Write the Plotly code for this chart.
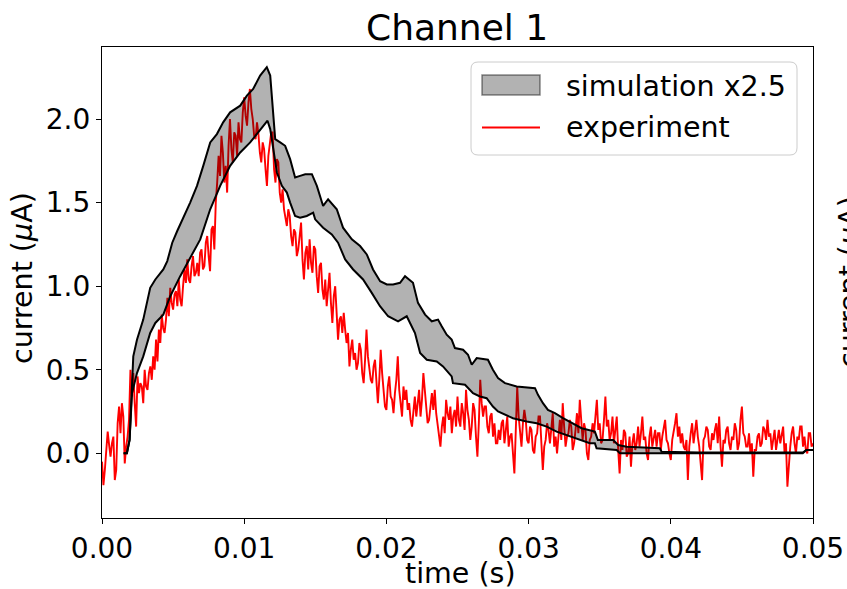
import plotly.graph_objects as go

# experiment trace, sampled every 0.1 ms (values in uA)
exp_step_ms = 0.1
exp_current = [
    -0.05, -0.19, -0.10, 0.02, 0.13, 0.05, -0.02, 0.06, 0.10, -0.16,
    -0.10, 0.18, 0.28, 0.12, 0.30, 0.22, -0.06, 0.04, 0.10, 0.20,
    0.50, 0.34, 0.48, 0.30, 0.16, 0.46, 0.36, 0.42, 0.40, 0.30,
    0.50, 0.40, 0.38, 0.48, 0.52, 0.44, 0.58, 0.50, 0.68, 0.55,
    0.74, 0.66, 0.83, 0.75, 0.72, 0.80, 0.93, 0.82, 0.99, 0.90,
    0.86, 0.95, 0.97, 0.88, 1.04, 0.92, 0.88, 1.00, 1.10, 1.02,
    1.16, 1.04, 1.02, 1.12, 1.18, 1.06, 1.08, 1.14, 1.06, 1.20,
    1.22, 1.10, 1.12, 1.26, 1.30, 1.18, 1.09, 1.34, 1.36, 1.22,
    1.50, 1.62, 1.78, 1.66, 1.90, 1.80, 1.62, 1.72, 1.56, 1.84,
    2.00, 1.82, 1.74, 1.92, 1.90, 1.78, 1.98, 1.88, 1.86, 2.04,
    2.13, 2.02, 1.96, 2.10, 2.18, 2.06, 2.00, 1.90, 1.88, 1.98,
    1.91, 1.80, 1.74, 1.86, 1.82, 1.70, 1.60, 1.78, 1.86, 1.92,
    1.92, 1.70, 1.62, 1.76, 1.74, 1.56, 1.50, 1.58, 1.46, 1.40,
    1.36, 1.46, 1.42, 1.30, 1.24, 1.34, 1.32, 1.18, 1.22, 1.30,
    1.38, 1.16, 1.04, 1.20, 1.24, 1.10, 1.28, 1.14, 1.08, 1.24,
    1.22, 1.06, 0.96, 1.12, 1.14, 0.98, 0.92, 1.04, 0.88, 0.98,
    1.08, 0.90, 0.78, 0.94, 1.00, 0.84, 0.68, 0.80, 0.82, 0.72,
    0.84, 0.74, 0.66, 0.72, 0.52, 0.62, 0.68, 0.56, 0.60, 0.50,
    0.54, 0.66, 0.62, 0.48, 0.42, 0.56, 0.74, 0.58, 0.50, 0.44,
    0.42, 0.52, 0.56, 0.40, 0.30, 0.44, 0.62, 0.48, 0.36, 0.28,
    0.26, 0.40, 0.46, 0.34, 0.32, 0.24, 0.36, 0.44, 0.58, 0.38,
    0.30, 0.22, 0.40, 0.32, 0.38, 0.26, 0.30, 0.20, 0.16, 0.28,
    0.34, 0.22, 0.30, 0.38, 0.22, 0.32, 0.48, 0.36, 0.30, 0.18,
    0.20, 0.30, 0.36, 0.26, 0.38, 0.24, 0.18, 0.10, 0.04, 0.16,
    0.22, 0.12, 0.32, 0.24, 0.20, 0.28, 0.12, 0.22, 0.26, 0.16,
    0.34, 0.20, 0.16, 0.30, 0.24, 0.14, 0.38, 0.26, 0.20, 0.08,
    0.16, 0.30, 0.26, 0.10, -0.02, 0.18, 0.44, 0.30, 0.22, 0.28,
    0.28, 0.16, 0.12, 0.22, 0.24, 0.10, 0.18, 0.06, 0.06, 0.14,
    0.08, 0.18, 0.20, 0.06, 0.14, 0.22, 0.04, 0.10, 0.12, -0.04,
    -0.12, 0.14, 0.40, 0.22, 0.12, 0.04, 0.18, 0.26, 0.20, 0.08,
    0.06, 0.16, 0.14, 0.02, 0.00, 0.10, 0.12, 0.22, 0.22, 0.02,
    -0.10, 0.04, 0.08, 0.18, 0.14, 0.06, 0.16, 0.24, 0.04, 0.10,
    0.00, 0.12, 0.20, 0.08, 0.30, 0.16, 0.04, 0.10, 0.12, 0.20,
    0.16, 0.02, 0.06, 0.14, 0.24, 0.12, 0.32, 0.20, 0.08, 0.18,
    0.14, 0.00, -0.04, 0.08, 0.10, 0.18, 0.12, 0.22, 0.32, 0.14,
    0.18, 0.06, 0.08, 0.20, 0.34, 0.16, 0.20, 0.08, 0.12, 0.22,
    0.06, 0.14, 0.22, 0.02, -0.12, 0.08, 0.02, 0.14, 0.12, -0.02,
    0.00, 0.10, -0.08, 0.06, 0.12, 0.02, 0.06, 0.16, 0.04, 0.12,
    0.22, 0.08, 0.10, 0.00, -0.04, 0.10, 0.16, 0.04, 0.08, 0.14,
    0.04, 0.12, 0.12, 0.02, 0.10, 0.16, 0.20, 0.08, 0.06, 0.00,
    -0.04, 0.08, 0.12, 0.18, 0.24, 0.10, 0.16, 0.06, 0.12, 0.04,
    0.02, 0.08, -0.16, 0.04, 0.12, 0.18, 0.06, 0.12, 0.20, 0.10,
    0.04, -0.06, -0.16, 0.08, 0.10, 0.16, 0.14, 0.04, 0.02, 0.12,
    0.08, 0.14, 0.18, 0.06, 0.22, 0.04, -0.08, 0.08, 0.06, 0.14,
    0.16, 0.06, 0.02, 0.10, 0.08, 0.18, 0.14, 0.02, 0.06, 0.20,
    0.28, 0.12, 0.10, 0.04, 0.04, 0.12, 0.00, 0.06, -0.14, 0.02,
    0.02, 0.10, 0.12, 0.04, 0.06, 0.16, 0.14, 0.08, 0.20, 0.10,
    0.12, 0.02, 0.08, 0.14, 0.02, 0.10, 0.14, 0.06, 0.10, 0.16,
    0.00, 0.06, -0.20, -0.06, 0.04, 0.12, 0.16, 0.06, 0.00, 0.10,
    0.08, 0.16, 0.16, 0.04, 0.10, 0.02, 0.00, 0.12, 0.12, 0.04,
    0.06,
]

# simulation envelope (x2.5), time in ms
sim_hi_t = [1.52, 1.75, 1.94, 2.20, 2.46, 2.90, 3.39, 3.75, 4.31, 4.59, 4.94, 5.29,
            6.20, 6.68, 7.12, 7.61, 8.08, 8.52, 9.01, 9.72, 10.19, 10.63, 11.12,
            11.59, 11.83, 12.18, 12.53, 12.88, 13.23, 13.58, 13.93, 14.29, 14.76,
            15.11, 15.55, 15.90, 16.51, 16.95, 17.57, 18.15, 18.62, 19.06, 19.56,
            20.03, 20.47, 20.96, 21.31, 21.87, 22.22, 22.72, 23.19, 23.63, 23.89,
            24.24, 24.59, 24.82, 25.39, 25.74, 26.00, 26.35, 27.14, 27.49, 27.85,
            28.34, 29.16, 30.45, 30.66, 31.01, 31.36, 31.85, 32.42, 33.12, 33.73,
            34.66, 34.87, 35.95, 36.30, 36.89, 39.23, 39.35, 42.03, 49.28, 49.54,
            50.0]
sim_hi = [0.0, 0.0, 0.08, 0.58, 0.68, 0.80, 0.99, 1.04, 1.10, 1.15, 1.26, 1.33,
          1.50, 1.60, 1.72, 1.86, 1.91, 1.98, 2.04, 2.08, 2.14, 2.18, 2.26,
          2.31, 2.26, 1.88, 1.86, 1.84, 1.76, 1.65, 1.66, 1.67, 1.67,
          1.60, 1.48, 1.52, 1.46, 1.35, 1.28, 1.24, 1.19, 1.10, 1.03,
          1.01, 1.01, 1.02, 1.06, 1.02, 0.90, 0.83, 0.79, 0.80, 0.76,
          0.71, 0.68, 0.63, 0.62, 0.59, 0.53, 0.57, 0.56, 0.50, 0.45,
          0.42, 0.40, 0.39, 0.35, 0.30, 0.26, 0.24, 0.21, 0.18, 0.15,
          0.13, 0.08, 0.08, 0.05, 0.04, 0.03, 0.01, 0.005, 0.005, 0.02,
          0.02]

sim_lo_t = [1.52, 1.75, 1.94, 2.11, 2.46, 2.90, 3.39, 3.75, 4.31, 4.80, 5.50, 6.20,
            6.91, 7.61, 8.31, 9.01, 9.72, 10.42, 10.89, 11.33, 11.64, 11.83, 12.04,
            12.30, 12.65, 13.00, 13.23, 13.58, 13.93, 14.40, 14.85, 14.99, 15.55,
            16.16, 16.60, 17.10, 17.66, 18.36, 18.97, 19.55, 20.12, 20.82, 21.43,
            22.01, 22.37, 22.84, 23.54, 23.98, 24.59, 24.68, 25.53, 26.09, 26.58,
            27.05, 27.49, 27.85, 28.90, 29.86, 30.57, 31.27, 31.97, 32.67, 33.38,
            34.31, 34.66, 34.78, 36.19, 36.42, 49.28, 49.54, 50.0]
sim_lo = [0.0, 0.0, 0.08, 0.36, 0.48, 0.58, 0.72, 0.78, 0.83, 0.94, 1.06, 1.17,
          1.28, 1.46, 1.60, 1.72, 1.80, 1.86, 1.91, 1.95, 1.99, 1.94, 1.82,
          1.68, 1.60, 1.56, 1.50, 1.42, 1.41, 1.42, 1.44, 1.40, 1.35,
          1.31, 1.26, 1.16, 1.10, 1.04, 0.96, 0.88, 0.82, 0.79, 0.82,
          0.72, 0.60, 0.56, 0.55, 0.52, 0.46, 0.42, 0.41, 0.36, 0.34,
          0.33, 0.28, 0.25, 0.21, 0.19, 0.18, 0.16, 0.13, 0.11, 0.09,
          0.06, 0.06, 0.03, 0.02, 0.0, 0.0, 0.02, 0.02]

x_ticks = [0.0, 0.01, 0.02, 0.03, 0.04, 0.05]
y_ticks = [0.0, 0.5, 1.0, 1.5, 2.0]

FONT = "DejaVu Sans"
W, H = 847, 589
L, R, T, B = 102, 34, 47, 71


def px_x(px):
    return (px - L) / (W - L - R)


def px_y(py):
    return (H - B - py) / (H - T - B)


exp_t = [i * exp_step_ms / 1000 for i in range(len(exp_current))]
hi_t = [v / 1000 for v in sim_hi_t]
lo_t = [v / 1000 for v in sim_lo_t]

fig = go.Figure()

fig.add_trace(go.Scatter(x=exp_t, y=exp_current, mode="lines",
                         line=dict(color="#ff0000", width=1.9), showlegend=False))

# band between the two simulation curves, drawn over the experiment
fig.add_trace(go.Scatter(x=hi_t + lo_t[::-1], y=sim_hi + sim_lo[::-1],
                         mode="lines", fill="toself", fillcolor="rgba(0,0,0,0.3)",
                         line=dict(width=0), showlegend=False))
fig.add_trace(go.Scatter(x=hi_t, y=sim_hi, mode="lines",
                         line=dict(color="black", width=2), showlegend=False))
fig.add_trace(go.Scatter(x=lo_t, y=sim_lo, mode="lines",
                         line=dict(color="black", width=2), showlegend=False))

axis_common = dict(showline=True, mirror=True, linecolor="black", linewidth=1.2,
                   ticks="outside", ticklen=5, tickwidth=1.2, tickcolor="black",
                   showgrid=False, zeroline=False, automargin=False,
                   tickfont=dict(family=FONT, size=28, color="black"))

fig.update_xaxes(range=[0, 0.05], tickvals=x_ticks, tickformat=".2f", **axis_common)
fig.update_yaxes(range=[-0.387, 2.431], tickvals=y_ticks, tickformat=".1f", **axis_common)

# legend box drawn like matplotlib's
bx0, bx1, by0, by1, rr = 471, 797, 62, 155, 7
path = (f"M {px_x(bx0 + rr)} {px_y(by0)} L {px_x(bx1 - rr)} {px_y(by0)} "
        f"Q {px_x(bx1)} {px_y(by0)} {px_x(bx1)} {px_y(by0 + rr)} "
        f"L {px_x(bx1)} {px_y(by1 - rr)} Q {px_x(bx1)} {px_y(by1)} {px_x(bx1 - rr)} {px_y(by1)} "
        f"L {px_x(bx0 + rr)} {px_y(by1)} Q {px_x(bx0)} {px_y(by1)} {px_x(bx0)} {px_y(by1 - rr)} "
        f"L {px_x(bx0)} {px_y(by0 + rr)} Q {px_x(bx0)} {px_y(by0)} {px_x(bx0 + rr)} {px_y(by0)} Z")

shapes = [
    dict(type="path", xref="paper", yref="paper", path=path,
         fillcolor="rgba(255,255,255,0.8)", line=dict(color="#cccccc", width=1)),
    dict(type="rect", xref="paper", yref="paper",
         x0=px_x(482), x1=px_x(540), y0=px_y(75), y1=px_y(95),
         fillcolor="rgba(0,0,0,0.3)", line=dict(color="rgba(0,0,0,0.45)", width=1.5)),
    dict(type="line", xref="paper", yref="paper",
         x0=px_x(482), x1=px_x(540), y0=px_y(127.5), y1=px_y(127.5),
         line=dict(color="#ff0000", width=2)),
]

txt = dict(family=FONT, size=28.5, color="black")
annotations = [
    dict(text="simulation x2.5", x=px_x(564), y=px_y(86), xref="paper", yref="paper",
         xanchor="left", yanchor="middle", showarrow=False, font=txt),
    dict(text="experiment", x=px_x(564), y=px_y(128), xref="paper", yref="paper",
         xanchor="left", yanchor="middle", showarrow=False, font=txt),
    dict(text="Channel 1", x=px_x(457), y=px_y(27), xref="paper", yref="paper",
         xanchor="center", yanchor="middle", showarrow=False,
         font=dict(family=FONT, size=36, color="black")),
    dict(text="time (s)", x=px_x(460), y=px_y(573), xref="paper", yref="paper",
         xanchor="center", yanchor="middle", showarrow=False, font=txt),
    dict(text="current (<i>μ</i>A)", x=px_x(22), y=px_y(278), xref="paper", yref="paper",
         xanchor="center", yanchor="middle", textangle=-90, showarrow=False, font=txt),
    # label of the neighbouring panel, cut by the image edge
    dict(text="current (<i>μ</i>A)", x=px_x(849), y=px_y(282), xref="paper", yref="paper",
         xanchor="center", yanchor="middle", textangle=-90, showarrow=False, font=txt),
]

fig.update_layout(
    width=W, height=H,
    margin=dict(l=L, r=R, t=T, b=B),
    paper_bgcolor="white", plot_bgcolor="white",
    font=dict(family=FONT, color="black"),
    shapes=shapes, annotations=annotations,
    showlegend=False,
)

# drop the page's default body margin so the figure sits at the window corner
fig.write_html("out.html", config={"displayModeBar": False},
               post_script="document.body.style.margin='0';document.body.style.overflow='hidden';")
